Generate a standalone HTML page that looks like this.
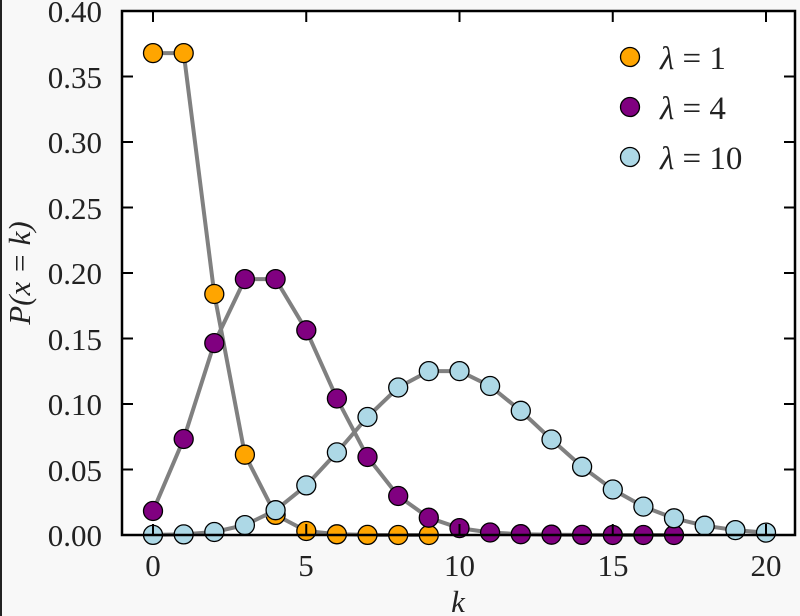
<!DOCTYPE html>
<html><head><meta charset="utf-8"><style>
html,body{margin:0;padding:0;background:#f8f8f8;}
svg{display:block;font-family:"Liberation Serif",serif;}
</style></head><body>
<svg id="s" width="800" height="616" viewBox="0 0 800 616" xmlns="http://www.w3.org/2000/svg">
<rect x="0" y="0" width="2" height="616" fill="#222"/>
<rect x="122" y="11" width="673" height="524" fill="#fff"/>
<g id="data"></g>
<rect x="122" y="11" width="673" height="524" fill="none" stroke="#000" stroke-width="2.5"/>
<g id="ticks" stroke="#000" stroke-width="2"></g>
<g font-size="31" fill="#222" text-anchor="end">
<text x="102" y="546">0.00</text>
<text x="102" y="481">0.05</text>
<text x="102" y="415">0.10</text>
<text x="102" y="350">0.15</text>
<text x="102" y="284">0.20</text>
<text x="102" y="219">0.25</text>
<text x="102" y="153">0.30</text>
<text x="102" y="88">0.35</text>
<text x="102" y="22">0.40</text>
</g>
<g font-size="31" fill="#222" text-anchor="middle">
<text x="153" y="576">0</text>
<text x="306" y="576">5</text>
<text x="459.5" y="576">10</text>
<text x="613" y="576">15</text>
<text x="766" y="576">20</text>
<text x="458" y="612" font-style="italic">k</text>
<text transform="translate(30,273) rotate(-90)" font-style="italic">P(x = k)</text>
</g>
<g font-size="33" fill="#222">
<circle cx="630" cy="57" r="9.5" fill="#ffa500" stroke="#000" stroke-width="1.3"/>
<circle cx="630" cy="107" r="9.5" fill="#800080" stroke="#000" stroke-width="1.3"/>
<circle cx="630" cy="157" r="9.5" fill="#add8e6" stroke="#000" stroke-width="1.3"/>
<text x="660" y="69"><tspan font-style="italic">λ</tspan> = 1</text>
<text x="660" y="119"><tspan font-style="italic">λ</tspan> = 4</text>
<text x="660" y="169"><tspan font-style="italic">λ</tspan> = 10</text>
</g>
</svg>
<script>
var X=k=>153+k*30.65, Y=p=>535-p*1310;
function pois(l,k){var f=1;for(var i=2;i<=k;i++)f*=i;return Math.exp(-l)*Math.pow(l,k)/f;}
var g=document.getElementById('data'),h='';
[[1,9,'#ffa500'],[4,17,'#800080'],[10,20,'#add8e6']].forEach(function(s){
 var pts=[];for(var k=0;k<=s[1];k++)pts.push(X(k).toFixed(1)+','+Y(pois(s[0],k)).toFixed(1));
 h+='<polyline points="'+pts.join(' ')+'" fill="none" stroke="#808080" stroke-width="4" stroke-linejoin="round"/>';
 pts.forEach(function(p){var a=p.split(',');h+='<circle cx="'+a[0]+'" cy="'+a[1]+'" r="9.5" fill="'+s[2]+'" stroke="#000" stroke-width="1.3"/>';});
});
g.innerHTML=h;
var t='';
for(var k=0;k<=20;k+=5){t+='<line x1="'+X(k)+'" y1="535" x2="'+X(k)+'" y2="524"/><line x1="'+X(k)+'" y1="11" x2="'+X(k)+'" y2="22"/>';}
for(var i=1;i<8;i++){var y=Y(i*0.05);t+='<line x1="122" y1="'+y+'" x2="133" y2="'+y+'"/><line x1="795" y1="'+y+'" x2="784" y2="'+y+'"/>';}
document.getElementById('ticks').innerHTML=t;
</script>
</body></html>
